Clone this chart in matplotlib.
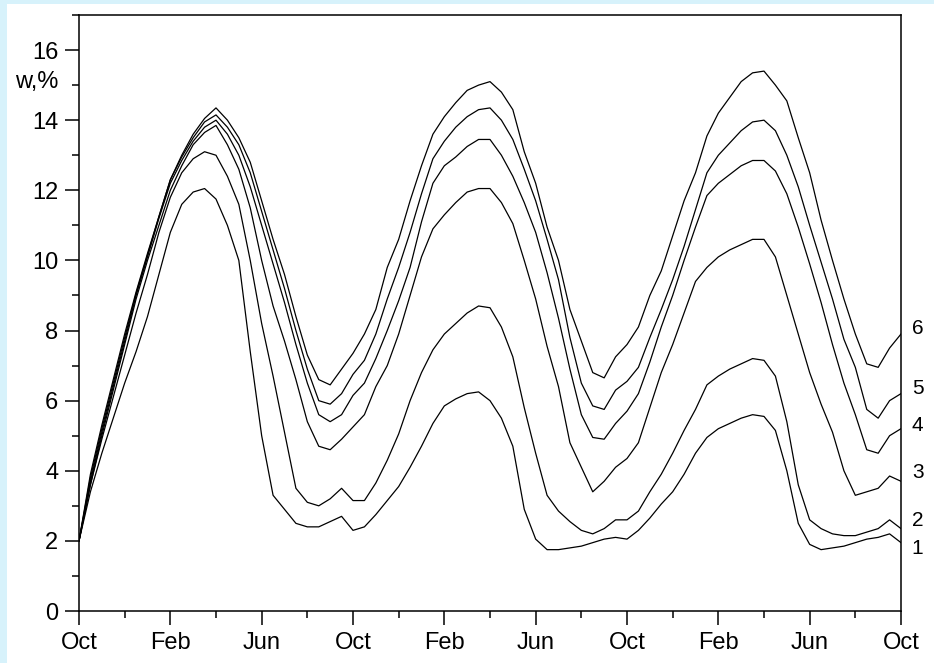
import matplotlib
matplotlib.use("Agg")
import matplotlib.pyplot as plt
from matplotlib.patches import Rectangle
from matplotlib.ticker import MultipleLocator, FixedLocator
import numpy as np

plt.rcParams['font.family'] = ['Liberation Sans', 'DejaVu Sans']

# months since first October, half-month steps (0 .. 36)
months = np.arange(0, 36.5, 0.5)

w1 = [2.0, 3.4, 4.5, 5.5, 6.5, 7.4, 8.4, 9.6, 10.8, 11.6, 11.95, 12.05, 11.75,
      11.0, 10.0, 7.4, 5.0, 3.3, 2.9, 2.5, 2.4, 2.4, 2.55, 2.7, 2.3,
      2.4, 2.75, 3.15, 3.55, 4.1, 4.7, 5.35, 5.85, 6.05, 6.2, 6.25, 6.0,
      5.5, 4.7, 2.9, 2.05, 1.75, 1.75, 1.8, 1.85, 1.95, 2.05, 2.1, 2.05,
      2.3, 2.65, 3.05, 3.4, 3.9, 4.5, 4.95, 5.2, 5.35, 5.5, 5.6, 5.55,
      5.15, 4.0, 2.5, 1.9, 1.75, 1.8, 1.85, 1.95, 2.05, 2.1, 2.2, 1.95]

w2 = [2.0, 3.6, 4.9, 6.1, 7.3, 8.5, 9.6, 10.8, 11.8, 12.5, 12.9, 13.1, 13.0,
      12.4, 11.6, 10.0, 8.2, 6.7, 5.1, 3.5, 3.1, 3.0, 3.2, 3.5, 3.15,
      3.15, 3.65, 4.3, 5.05, 6.0, 6.8, 7.45, 7.9, 8.2, 8.5, 8.7, 8.65,
      8.1, 7.25, 5.8, 4.5, 3.3, 2.85, 2.55, 2.3, 2.2, 2.35, 2.6, 2.6,
      2.85, 3.4, 3.9, 4.5, 5.15, 5.75, 6.45, 6.7, 6.9, 7.05, 7.2, 7.15,
      6.7, 5.4, 3.6, 2.6, 2.35, 2.2, 2.15, 2.15, 2.25, 2.35, 2.6, 2.35]

w3 = [2.0, 3.6, 5.0, 6.3, 7.6, 8.9, 10.0, 11.0, 12.0, 12.7, 13.3, 13.65, 13.85,
      13.3, 12.6, 11.5, 10.0, 8.7, 7.7, 6.6, 5.4, 4.7, 4.6, 4.9, 5.25,
      5.6, 6.4, 7.0, 7.9, 9.0, 10.1, 10.9, 11.3, 11.65, 11.95, 12.05, 12.05,
      11.65, 11.05, 10.0, 8.9, 7.55, 6.4, 4.8, 4.1, 3.4, 3.7, 4.1, 4.35,
      4.8, 5.8, 6.8, 7.6, 8.5, 9.4, 9.8, 10.1, 10.3, 10.45, 10.6, 10.6,
      10.1, 9.0, 7.9, 6.8, 5.9, 5.1, 4.0, 3.3, 3.4, 3.5, 3.85, 3.7]

w4 = [2.0, 3.7, 5.1, 6.4, 7.7, 9.0, 10.1, 11.2, 12.2, 12.85, 13.4, 13.8, 14.0,
      13.6, 13.0, 12.1, 11.0, 9.9, 8.8, 7.6, 6.5, 5.6, 5.4, 5.6, 6.15,
      6.5, 7.2, 8.0, 8.85, 9.8, 11.1, 12.2, 12.7, 12.95, 13.25, 13.45, 13.45,
      13.0, 12.4, 11.65, 10.8, 9.65, 8.35, 6.9, 5.6, 4.95, 4.9, 5.35, 5.7,
      6.2, 7.1, 8.1, 9.0, 10.0, 10.95, 11.85, 12.2, 12.45, 12.7, 12.85, 12.85,
      12.55, 11.9, 10.95, 9.9, 8.8, 7.6, 6.5, 5.6, 4.6, 4.5, 5.0, 5.2]

w5 = [2.0, 3.8, 5.2, 6.5, 7.8, 9.05, 10.15, 11.25, 12.3, 12.95, 13.5, 13.95, 14.15,
      13.8, 13.3, 12.5, 11.4, 10.3, 9.2, 8.0, 6.9, 6.0, 5.9, 6.2, 6.75,
      7.15, 7.9, 8.9, 9.8, 10.8, 11.9, 12.9, 13.4, 13.8, 14.1, 14.3, 14.35,
      14.0, 13.45, 12.6, 11.7, 10.6, 9.45, 7.8, 6.5, 5.85, 5.75, 6.3, 6.55,
      6.95, 7.8, 8.6, 9.45, 10.4, 11.45, 12.5, 13.0, 13.35, 13.7, 13.95, 14.0,
      13.7, 13.0, 12.1, 11.0, 9.95, 8.9, 7.75, 6.95, 5.75, 5.5, 6.0, 6.2]

w6 = [2.0, 3.9, 5.3, 6.6, 7.9, 9.1, 10.2, 11.25, 12.3, 13.0, 13.6, 14.05, 14.35,
      14.0, 13.5, 12.8, 11.7, 10.6, 9.6, 8.4, 7.3, 6.6, 6.45, 6.9, 7.35,
      7.9, 8.6, 9.8, 10.6, 11.7, 12.7, 13.6, 14.1, 14.5, 14.85, 15.0, 15.1,
      14.8, 14.3, 13.1, 12.2, 10.95, 10.0, 8.6, 7.7, 6.8, 6.65, 7.25, 7.6,
      8.1, 9.0, 9.7, 10.7, 11.7, 12.5, 13.55, 14.2, 14.65, 15.1, 15.35, 15.4,
      15.0, 14.55, 13.5, 12.5, 11.15, 10.0, 8.9, 7.9, 7.05, 6.95, 7.5, 7.9]

series = [w1, w2, w3, w4, w5, w6]
series_labels = ['1', '2', '3', '4', '5', '6']

tick_months = [0, 4, 8, 12, 16, 20, 24, 28, 32, 36]
tick_labels = ['Oct', 'Feb', 'Jun', 'Oct', 'Feb', 'Jun', 'Oct', 'Feb', 'Jun', 'Oct']

# small vertical nudges (points) for the end labels so they do not collide
label_dy = [-4, 6, 6, 2, 4, 4]

W, H = 934, 663
fig = plt.figure(figsize=(W / 100, H / 100), dpi=100)
fig.patch.set_facecolor('#d7f2fb')
bg = Rectangle((7 / W, 0), 1 - 7 / W, 1 - 4 / H, transform=fig.transFigure,
               facecolor='white', edgecolor='none', zorder=-10)
fig.add_artist(bg)

ax = fig.add_axes([79 / W, 1 - 611 / H, (901 - 79) / W, (611 - 15) / H])
ax.set_zorder(5)
ax.set_facecolor('white')

for vals in series:
    ax.plot(months, vals, color='black', lw=0.9)

for vals, lab, dy in zip(series, series_labels, label_dy):
    ax.annotate(lab, xy=(months[-1], vals[-1]), xytext=(12, dy), textcoords='offset points',
                ha='center', va='center', fontsize=15, annotation_clip=False)

ax.set_xlim(0, 36)
ax.set_ylim(0, 17)
ax.xaxis.set_major_locator(FixedLocator(tick_months))
ax.set_xticklabels(tick_labels)
ax.xaxis.set_minor_locator(MultipleLocator(2))
ax.yaxis.set_major_locator(MultipleLocator(2))
ax.yaxis.set_minor_locator(MultipleLocator(1))

ax.tick_params(which='major', direction='out', length=10, width=1.1, labelsize=17, pad=5)
ax.tick_params(which='minor', direction='out', length=5, width=1.1)
ax.tick_params(top=False, right=False, which='both')
for sp in ax.spines.values():
    sp.set_linewidth(1.1)

fig.text(58 / W, 1 - 82 / H, 'w,%', ha='right', va='center', fontsize=17)

fig.savefig('out.png', dpi=100, facecolor=fig.get_facecolor())
